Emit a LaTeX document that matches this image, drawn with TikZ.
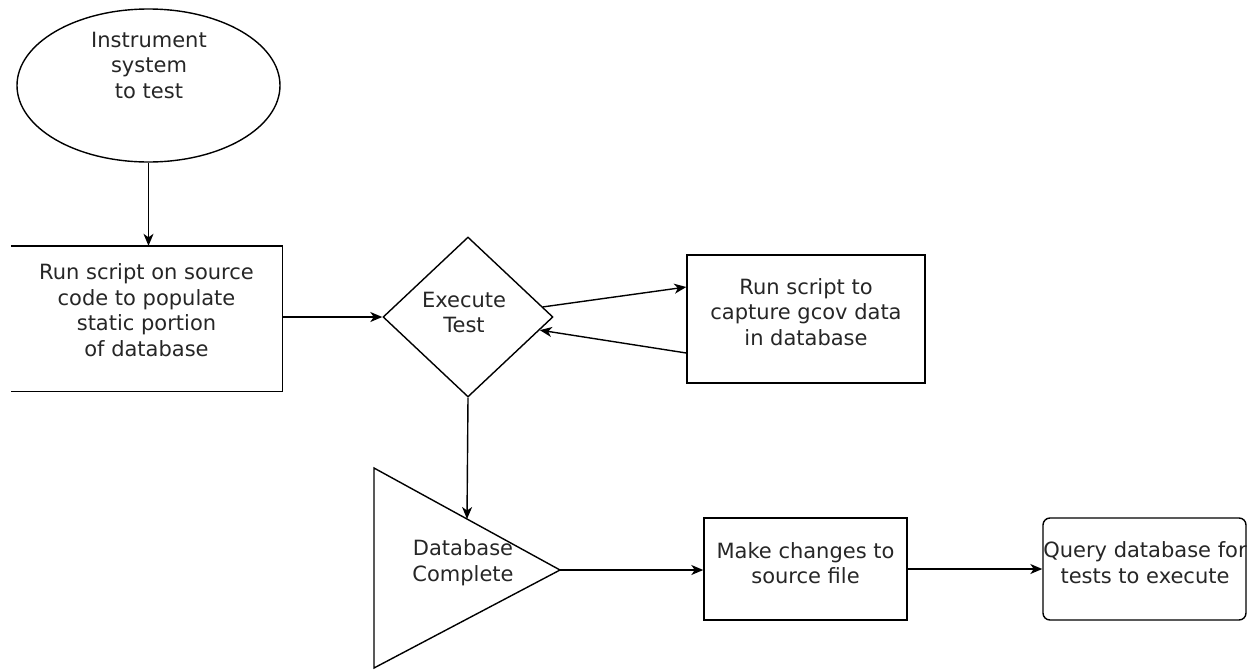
\documentclass[tikz,border=0pt]{standalone}
\usepackage{fontspec}
\setmainfont{DejaVu Sans}
\usetikzlibrary{arrows.meta,shapes.geometric,calc}

\tikzset{
  shape line/.style={draw=black, line width=1.4pt},
  boxnode/.style={shape line, rectangle, inner sep=0pt},
  txt/.style={align=center, inner sep=0pt, text=black!85,
    font=\fontsize{21}{25.5}\selectfont},
  flow/.style={draw=black, line width=1.4pt,
    -{Stealth[length=12pt,width=10pt,inset=3.5pt]}},
}

\begin{document}
\begin{tikzpicture}[x=1pt, y=-1pt]
  \useasboundingbox (0,0) rectangle (1254,670);

  % start ellipse
  \node[shape line, ellipse, minimum width=263pt, minimum height=153pt, inner sep=0pt]
    (start) at (148.5,85.5) {};
  \node[txt] (startlbl) at (149,65) {Instrument\\system\\to test};

  % static-analysis box, open on its left side
  \node[rectangle, minimum width=271pt, minimum height=145pt, inner sep=0pt]
    (static) at (146.5,318.5) {};
  \draw[shape line] (static.north west) -- (static.north east)
    -- (static.south east) -- (static.south west);
  \node[txt] (staticlbl) at (146.5,310) {Run script on source\\code to populate\\static portion\\of database};

  % decision
  \node[shape line, diamond, minimum width=170pt, minimum height=160pt, inner sep=0pt]
    (exec) at (468,317) {};
  \node[txt] (execlbl) at (464,312.5) {Execute\\Test};

  % gcov capture
  \node[boxnode, minimum width=238pt, minimum height=128pt] (gcov) at (806,319) {};
  \node[txt] (gcovlbl) at (806,312) {Run script to\\capture gcov data\\in database};

  % database complete (triangle)
  \coordinate (dbtop) at (374,468);
  \coordinate (dbbot) at (374,668);
  \coordinate (dbtip) at (560,570);
  \draw[shape line, line join=miter] (dbtop) -- (dbtip) -- (dbbot) -- cycle;
  \node[txt] (dblbl) at (463,562.5) {Database\\Complete};

  % changes
  \node[boxnode, minimum width=203pt, minimum height=102pt] (change) at (805.5,569) {};
  \node[txt] (changelbl) at (805.5,563) {Make changes to\\source file};

  % query
  \node[boxnode, rounded corners=7pt, minimum width=203pt, minimum height=102pt]
    (query) at (1144.5,569) {};
  \node[txt] (querylbl) at (1145,562.5) {Query database for\\tests to execute};

  % connectors
  \draw[flow] (start.south) -- (start.south |- static.north);
  \draw[flow] (static.east |- exec.west) -- (exec.west);
  \draw[flow] ($(exec.north)!0.875!(exec.east)$) -- ([yshift=32pt]gcov.west);
  \draw[flow] ([yshift=-34pt]gcov.west) -- ($(exec.east)!0.1625!(exec.south)$);
  \draw[flow] (exec.south) -- ($(dbtop)!0.5!(dbtip)$);
  \draw[flow] (dbtip) -- (dbtip -| change.west);
  \draw[flow] (change.east) -- (query.west);
\end{tikzpicture}
\end{document}
